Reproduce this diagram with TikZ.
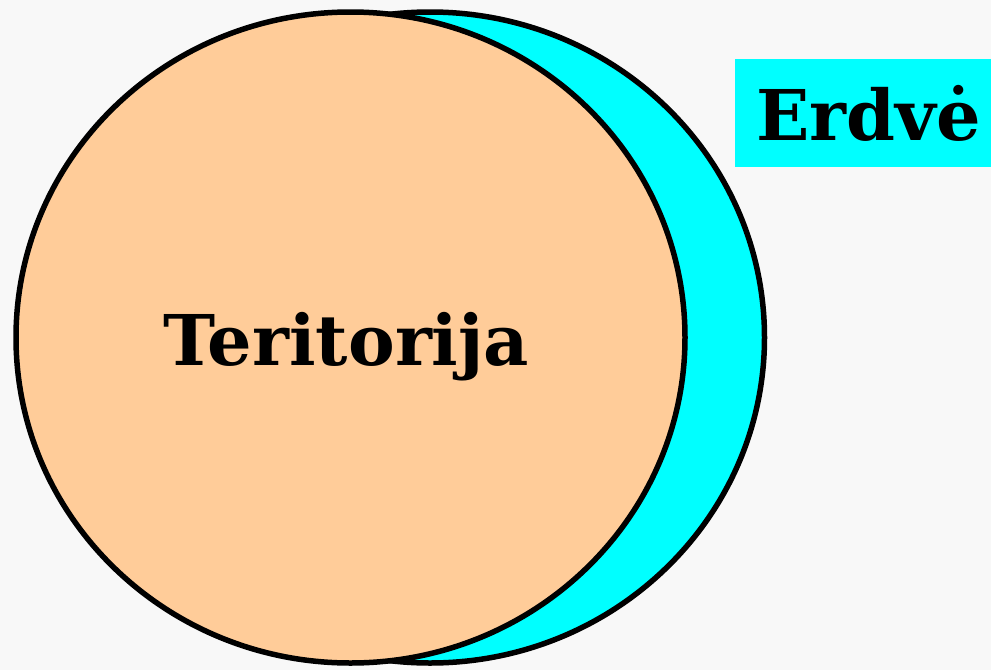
\documentclass[tikz,border=0pt]{standalone}
\usepackage{fontspec}
\setmainfont{DejaVu Serif}
\definecolor{bgc}{HTML}{F8F8F8}
\definecolor{peach}{HTML}{FFCC99}
\definecolor{aqua}{HTML}{00FFFF}
\tikzset{
  blob/.style={draw=black, line width=5.5pt},
  bigtext/.style={inner sep=0pt, anchor=base, font=\fontsize{70}{70}\selectfont\bfseries}
}
\begin{document}
\begin{tikzpicture}[x=1pt,y=-1pt]
\fill[bgc] (0,0) rectangle (991,670);
\useasboundingbox (0,0) rectangle (991,670);
\draw[blob, fill=aqua] (430,337.5) ellipse [x radius=334.5, y radius=325.5];
\draw[blob, fill=peach] (350.5,337.5) ellipse [x radius=334.5, y radius=325.5];
\fill[aqua] (735,59) rectangle (991,167);
\node[bigtext] (erdve) at (868.5,140) {Erdvė};
\node[bigtext] (teritorija) at (346.5,365) {Teritorija};
\end{tikzpicture}
\end{document}
